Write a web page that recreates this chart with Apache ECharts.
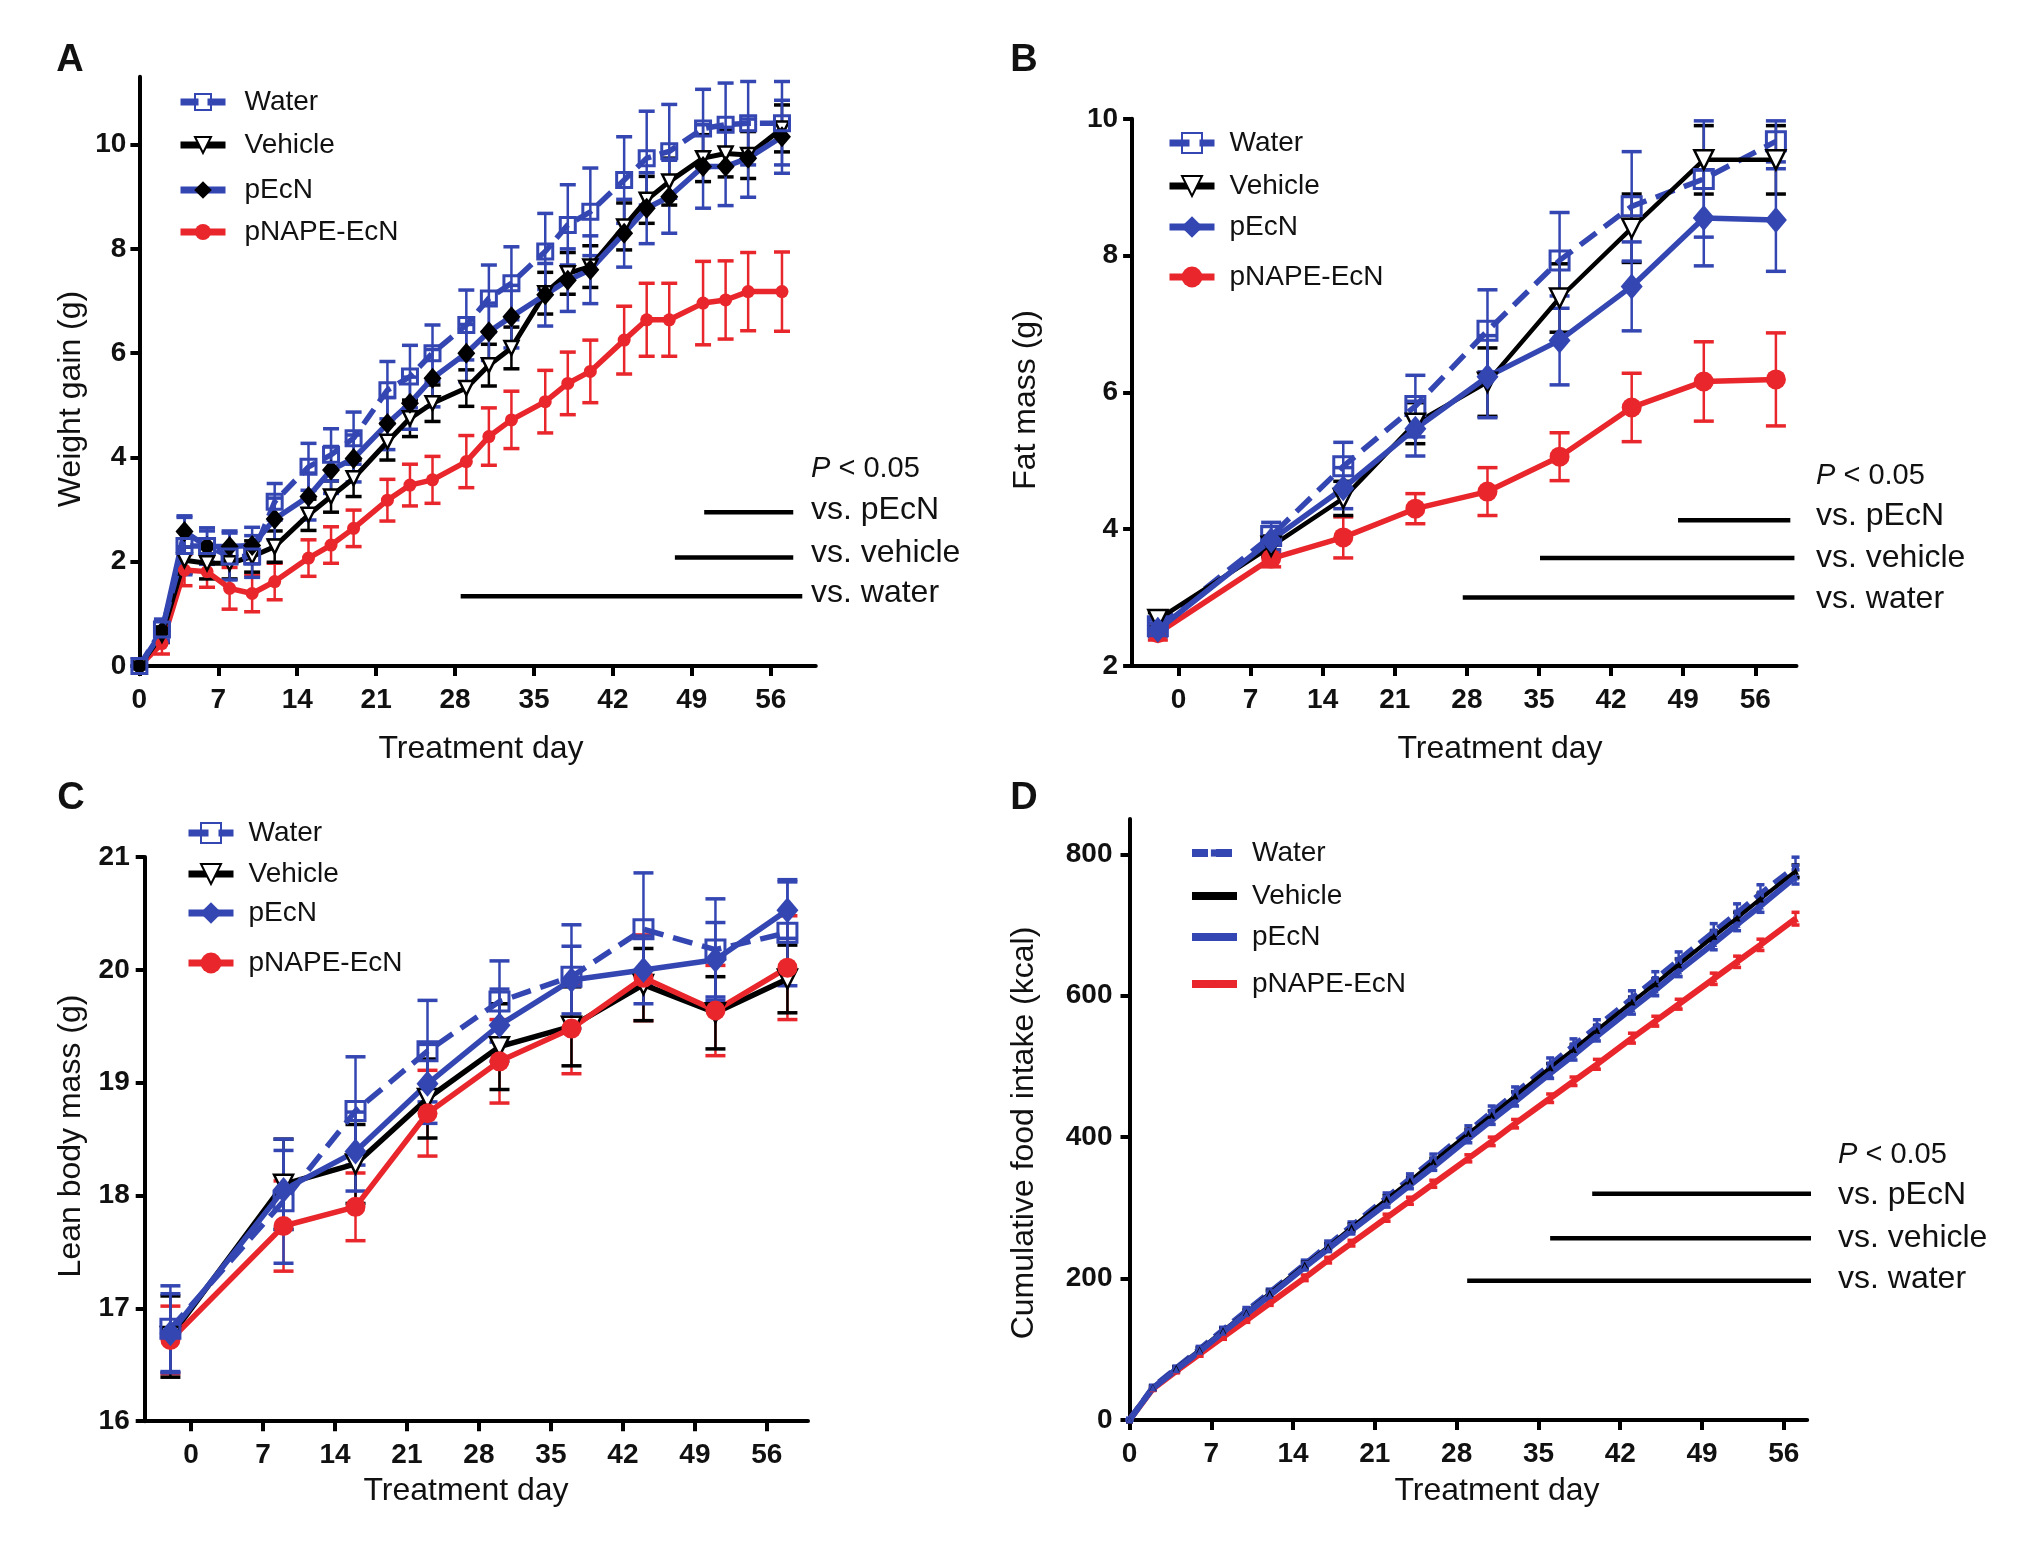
<!DOCTYPE html>
<html>
<head>
<meta charset="utf-8">
<script src="https://cdn.jsdelivr.net/npm/echarts@6/dist/echarts.min.js"></script>
<style>html,body{margin:0;padding:0;background:#fff}#c{width:2024px;height:1544px}</style>
</head>
<body>
<div id="c"></div>
<script>
// ---------- DATA ----------
const xTicks = [0, 7, 14, 21, 28, 35, 42, 49, 56];
const yTicksA = [0, 2, 4, 6, 8, 10];
const yTicksB = [2, 4, 6, 8, 10];
const yTicksC = [16, 17, 18, 19, 20, 21];
const yTicksD = [0, 200, 400, 600, 800];

// Panel A: weight gain (g)
const daysA = [0,2,4,6,8,10,12,15,17,19,22,24,26,29,31,33,36,38,40,43,45,47,50,52,54,57];
const waterA   = [0,0.7,2.3,2.3,2.1,2.1,3.15,3.82,4.05,4.37,5.29,5.55,6.0,6.54,7.05,7.34,7.95,8.46,8.71,9.32,9.74,9.87,10.31,10.38,10.41,10.41];
const waterAerr= [0.05,0.2,0.55,0.35,0.45,0.4,0.35,0.45,0.5,0.5,0.55,0.6,0.54,0.67,0.64,0.7,0.73,0.77,0.84,0.83,0.9,0.9,0.75,0.8,0.8,0.8];
const vehicleA = [0,0.6,2.03,1.97,1.97,2.1,2.29,2.9,3.25,3.6,4.3,4.75,5.04,5.33,5.77,6.1,7.15,7.53,7.66,8.43,8.94,9.29,9.74,9.83,9.8,10.31];
const vehicleAerr=[0.05,0.15,0.25,0.3,0.3,0.3,0.3,0.3,0.3,0.35,0.35,0.35,0.35,0.35,0.4,0.4,0.4,0.4,0.4,0.45,0.45,0.45,0.45,0.45,0.45,0.45];
const pEcNA    = [0,0.66,2.58,2.29,2.29,2.31,2.82,3.25,3.76,3.98,4.65,5.04,5.52,6.0,6.41,6.7,7.12,7.4,7.6,8.3,8.78,9.0,9.58,9.58,9.74,10.15];
const pEcNAerr = [0.05,0.2,0.3,0.3,0.3,0.35,0.4,0.45,0.45,0.45,0.5,0.5,0.55,0.55,0.55,0.6,0.6,0.6,0.65,0.65,0.68,0.7,0.8,0.75,0.75,0.7];
const redA     = [0,0.43,1.84,1.81,1.49,1.39,1.62,2.07,2.32,2.64,3.18,3.47,3.57,3.92,4.4,4.72,5.07,5.42,5.65,6.25,6.64,6.64,6.96,7.02,7.18,7.18];
const redAerr  = [0.05,0.2,0.3,0.3,0.4,0.35,0.35,0.35,0.35,0.35,0.4,0.4,0.45,0.5,0.55,0.55,0.6,0.6,0.6,0.65,0.7,0.7,0.8,0.75,0.75,0.76];

// Panel B: fat mass (g)
const daysB = [-2,9,16,23,30,37,44,51,58];
const waterB    = [2.58,3.9,4.92,5.8,6.9,7.93,8.72,9.12,9.67];
const waterBerr = [0.1,0.2,0.35,0.45,0.6,0.7,0.8,0.85,0.3];
const vehicleB  = [2.68,3.75,4.45,5.55,6.15,7.38,8.4,9.4,9.4];
const vehicleBerr=[0.1,0.15,0.25,0.3,0.5,0.5,0.5,0.5,0.5];
const pEcNB     = [2.53,3.84,4.6,5.47,6.23,6.76,7.55,8.55,8.52];
const pEcNBerr  = [0.1,0.2,0.3,0.4,0.6,0.65,0.65,0.7,0.75];
const redB      = [2.48,3.57,3.88,4.3,4.55,5.06,5.78,6.16,6.19];
const redBerr   = [0.1,0.12,0.3,0.22,0.35,0.35,0.5,0.58,0.68];

// Panel C: lean body mass (g)
const daysC = [-2,9,16,23,30,37,44,51,58];
const waterC    = [16.82,17.95,18.75,19.28,19.72,19.94,20.36,20.18,20.33];
const waterCerr = [0.38,0.55,0.48,0.45,0.36,0.46,0.5,0.45,0.47];
const vehicleC  = [16.75,18.1,18.28,18.86,19.32,19.5,19.87,19.62,19.92];
const vehicleCerr=[0.36,0.4,0.35,0.35,0.38,0.35,0.32,0.32,0.3];
const pEcNC     = [16.78,18.05,18.39,18.99,19.51,19.91,20.0,20.09,20.53];
const pEcNCerr  = [0.35,0.35,0.35,0.35,0.32,0.3,0.3,0.33,0.25];
const redC      = [16.72,17.73,17.9,18.73,19.19,19.48,19.93,19.64,20.02];
const redCerr   = [0.3,0.4,0.3,0.38,0.37,0.4,0.38,0.4,0.46];

// Panel D: cumulative food intake (kcal)
const daysD = [0,2,4,6,8,10,12,15,17,19,22,24,26,29,31,33,36,38,40,43,45,47,50,52,54,57];
const waterD    = [0,46,73,100,127,154,180,220,247,274,314,341,368,408,435,462,502,529,556,596,623,650,690,717,744,782];
const waterDerr = [0,3,3,4,4,5,5,6,6,6,7,7,8,8,9,9,10,10,10,11,11,12,12,13,13,14];
const vehicleD  = [0,46,73,99,126,152,179,219,245,272,312,338,365,405,431,458,498,524,551,591,617,644,684,710,737,776];
const vehicleDerr=[0,2,2,3,3,3,4,4,4,5,5,5,5,6,6,6,6,7,7,7,7,8,8,8,8,9];
const pEcND     = [0,45,71,97,124,150,176,216,242,268,306,332,358,398,424,450,490,516,543,582,608,635,674,701,727,768];
const pEcNDerr  = [0,2,2,3,3,3,4,4,4,5,5,5,5,6,6,6,7,7,7,8,8,8,9,9,9,10];
const redD      = [0,44,69,93,117,141,165,201,226,250,286,310,334,370,394,419,455,479,503,540,564,588,624,648,672,709];
const redDerr   = [0,2,2,3,3,3,3,4,4,4,5,5,5,5,6,6,6,6,7,7,7,7,8,8,8,9];

// Significance bars [xStart, xEnd, y]
const sigA = [[50.1,58.0,2.95],[47.5,58.0,2.08],[28.5,58.8,1.34]];
const sigB = [[48.5,59.4,4.13],[35.1,59.8,3.58],[27.6,59.8,3.0]];
const sigD = [[39.6,58.4,320],[36.0,58.4,257],[28.9,58.4,197]];
const sigLabels = ['vs. pEcN','vs. vehicle','vs. water'];

// ---------- STYLE ----------
const FONT = '"Liberation Sans", Arial, Helvetica, sans-serif';
const BLUE = '#3446b2', RED = '#e8262b', BLACK = '#000';

function zip(xs, ys){ return xs.map((x,i)=>[x, ys[i]]); }

function errSeries(gi, xs, ys, es, color, capW, lw){
  return {
    type:'custom', xAxisIndex:gi, yAxisIndex:gi, silent:true, z:2,
    data: xs.map((x,i)=>[x, ys[i]-es[i], ys[i]+es[i]]),
    encode:{x:0, y:[1,2]},
    renderItem:function(params, api){
      const x = api.value(0);
      const lo = api.coord([x, api.value(1)]);
      const hi = api.coord([x, api.value(2)]);
      const h = capW/2;
      const st = {stroke:color, lineWidth:lw};
      return {type:'group', children:[
        {type:'line', shape:{x1:lo[0],y1:lo[1],x2:hi[0],y2:hi[1]}, style:st},
        {type:'line', shape:{x1:lo[0]-h,y1:lo[1],x2:lo[0]+h,y2:lo[1]}, style:{stroke:color, lineWidth:lw+1}},
        {type:'line', shape:{x1:hi[0]-h,y1:hi[1],x2:hi[0]+h,y2:hi[1]}, style:{stroke:color, lineWidth:lw+1}}
      ]};
    }
  };
}

function lineSeries(name, gi, xs, ys, opt){
  return Object.assign({
    type:'line', name:name, xAxisIndex:gi, yAxisIndex:gi, data:zip(xs, ys),
    animation:false, z:3
  }, opt);
}

function sigSeries(gi, bars){
  return bars.map(b=>({
    type:'line', xAxisIndex:gi, yAxisIndex:gi, data:[[b[0],b[2]],[b[1],b[2]]],
    symbol:'none', clip:false, silent:true, lineStyle:{color:BLACK, width:4.5}, z:4
  }));
}

function xAx(gi, min, max){
  return {type:'value', gridIndex:gi, min:min, max:max,
    axisLine:{onZero:false, lineStyle:{color:BLACK, width:4}},
    axisTick:{customValues:xTicks, length:10, lineStyle:{color:BLACK, width:4}},
    axisLabel:{customValues:xTicks, margin:20, fontSize:28, fontWeight:'bold', fontFamily:FONT, color:'#111'},
    splitLine:{show:false}};
}
function yAx(gi, min, max, ticks, margin){
  return {type:'value', gridIndex:gi, min:min, max:max,
    axisLine:{onZero:false, lineStyle:{color:BLACK, width:4}},
    axisTick:{customValues:ticks, length:9, lineStyle:{color:BLACK, width:4}},
    axisLabel:{customValues:ticks, margin:margin, fontSize:28, fontWeight:'bold', fontFamily:FONT, color:'#111'},
    splitLine:{show:false}};
}

function legendItem(name, left, yc, pad, itemH, lw){
  const ih = itemH || 22;
  const h = Math.max(ih, 28);
  return {left:left, top:yc - h/2, padding:0, orient:'vertical', itemWidth:45, itemHeight:ih,
    data:[name], selectedMode:false,
    lineStyle:{width: lw || 7},
    formatter:function(n){ return n.split('|')[0]; },
    textStyle:{fontSize:28, fontFamily:FONT, color:'#111', padding:[0,0,0,pad], lineHeight:28}};
}

const series = [];
// Panel A
series.push(errSeries(0, daysA, redA, redAerr, RED, 16, 2.5));
series.push(errSeries(0, daysA, vehicleA, vehicleAerr, BLACK, 16, 2.5));
series.push(errSeries(0, daysA, pEcNA, pEcNAerr, BLUE, 16, 2.5));
series.push(errSeries(0, daysA, waterA, waterAerr, BLUE, 16, 2.5));
series.push(lineSeries('pNAPE-EcN|A', 0, daysA, redA, {symbol:'circle', symbolSize:13, itemStyle:{color:RED}, lineStyle:{color:RED, width:5.5}}));
series.push(lineSeries('Vehicle|A', 0, daysA, vehicleA, {symbol:'triangle', symbolRotate:180, symbolSize:14, itemStyle:{color:'#fff', borderColor:BLACK, borderWidth:2.5}, lineStyle:{color:BLACK, width:5}}));
series.push(lineSeries('pEcN|A', 0, daysA, pEcNA, {symbol:'diamond', symbolSize:[18,21], itemStyle:{color:BLACK}, lineStyle:{color:BLUE, width:5.5}}));
series.push(lineSeries('Water|A', 0, daysA, waterA, {symbol:'rect', symbolSize:15, itemStyle:{color:'rgba(255,255,255,0)', borderColor:BLUE, borderWidth:3}, lineStyle:{color:BLUE, width:5.5, type:[18,9]}}));
// Panel B
series.push(errSeries(1, daysB, redB, redBerr, RED, 20, 2.5));
series.push(errSeries(1, daysB, vehicleB, vehicleBerr, BLACK, 20, 2.5));
series.push(errSeries(1, daysB, pEcNB, pEcNBerr, BLUE, 20, 2.5));
series.push(errSeries(1, daysB, waterB, waterBerr, BLUE, 20, 2.5));
series.push(lineSeries('pNAPE-EcN|B', 1, daysB, redB, {symbol:'circle', symbolSize:20, itemStyle:{color:RED}, lineStyle:{color:RED, width:5.5}}));
series.push(lineSeries('Water|B', 1, daysB, waterB, {symbol:'rect', symbolSize:19, itemStyle:{color:'rgba(255,255,255,0)', borderColor:BLUE, borderWidth:3}, lineStyle:{color:BLUE, width:5.5, type:[20,10]}}));
series.push(lineSeries('Vehicle|B', 1, daysB, vehicleB, {symbol:'triangle', symbolRotate:180, symbolSize:19, itemStyle:{color:'#fff', borderColor:BLACK, borderWidth:2.5}, lineStyle:{color:BLACK, width:4.5}}));
series.push(lineSeries('pEcN|B', 1, daysB, pEcNB, {symbol:'diamond', symbolSize:[22,26], itemStyle:{color:BLUE}, lineStyle:{color:BLUE, width:5.5}}));
// Panel C
series.push(errSeries(2, daysC, redC, redCerr, RED, 20, 2.5));
series.push(errSeries(2, daysC, vehicleC, vehicleCerr, BLACK, 20, 2.5));
series.push(errSeries(2, daysC, pEcNC, pEcNCerr, BLUE, 20, 2.5));
series.push(errSeries(2, daysC, waterC, waterCerr, BLUE, 20, 2.5));
series.push(lineSeries('Vehicle|C', 2, daysC, vehicleC, {symbol:'triangle', symbolRotate:180, symbolSize:19, itemStyle:{color:'#fff', borderColor:BLACK, borderWidth:2.5}, lineStyle:{color:BLACK, width:5.5}}));
series.push(lineSeries('pNAPE-EcN|C', 2, daysC, redC, {symbol:'circle', symbolSize:20, itemStyle:{color:RED}, lineStyle:{color:RED, width:5.5}}));
series.push(lineSeries('Water|C', 2, daysC, waterC, {symbol:'rect', symbolSize:19, itemStyle:{color:'rgba(255,255,255,0)', borderColor:BLUE, borderWidth:3}, lineStyle:{color:BLUE, width:5.5, type:[20,10]}}));
series.push(lineSeries('pEcN|C', 2, daysC, pEcNC, {symbol:'diamond', symbolSize:[22,26], itemStyle:{color:BLUE}, lineStyle:{color:BLUE, width:5.5}}));
// Panel D
series.push(errSeries(3, daysD, redD, redDerr, RED, 8, 2.5));
series.push(errSeries(3, daysD, waterD, waterDerr, BLUE, 8, 2.5));
series.push(errSeries(3, daysD, vehicleD, vehicleDerr, BLACK, 8, 2.5));
series.push(errSeries(3, daysD, pEcND, pEcNDerr, BLUE, 8, 2.5));
series.push(lineSeries('pNAPE-EcN|D', 3, daysD, redD, {symbol:'triangle', symbolSize:7, itemStyle:{color:RED}, lineStyle:{color:RED, width:6}}));
series.push(lineSeries('Water|D', 3, daysD, waterD, {symbol:'rect', symbolSize:7, itemStyle:{color:BLUE}, lineStyle:{color:BLUE, width:6, type:[16,8]}}));
series.push(lineSeries('Vehicle|D', 3, daysD, vehicleD, {symbol:'triangle', symbolSize:7, itemStyle:{color:BLACK}, lineStyle:{color:BLACK, width:4}}));
series.push(lineSeries('pEcN|D', 3, daysD, pEcND, {symbol:'triangle', symbolSize:7, itemStyle:{color:BLUE}, lineStyle:{color:BLUE, width:6}}));
// significance bars
series.push(...sigSeries(0, sigA), ...sigSeries(1, sigB), ...sigSeries(3, sigD));

const legends = [
  legendItem('Water|A', 177, 102, 14, 20), legendItem('Vehicle|A', 177, 145, 14, 20),
  legendItem('pEcN|A', 177, 190, 14, 22), legendItem('pNAPE-EcN|A', 177, 232, 14, 20),
  legendItem('Water|B', 1166, 143, 10, 25), legendItem('Vehicle|B', 1166, 186, 10, 25),
  legendItem('pEcN|B', 1166, 227, 10, 27), legendItem('pNAPE-EcN|B', 1166, 277, 10, 26),
  legendItem('Water|C', 185, 833, 10, 25), legendItem('Vehicle|C', 185, 874, 10, 25),
  legendItem('pEcN|C', 185, 913, 10, 27), legendItem('pNAPE-EcN|C', 185, 963, 10, 26),
  legendItem('Water|D', 1188, 853, 10, 9, 8), legendItem('Vehicle|D', 1188, 896, 10, 9, 8),
  legendItem('pEcN|D', 1188, 937, 10, 9, 8), legendItem('pNAPE-EcN|D', 1188, 984, 10, 9, 8)
];

function txt(text, x, y, size, opt){
  return Object.assign({type:'text', x:x, y:y, silent:true,
    style:Object.assign({text:text, fontSize:size, fontFamily:FONT, fill:'#111',
      align:'center', verticalAlign:'middle', textAlign:'center', textVerticalAlign:'middle'}, (opt&&opt.style)||{})},
    (opt&&opt.el)||{});
}
function leftTxt(text, x, y, size){ return txt(text, x, y, size, {style:{align:'left', textAlign:'left'}}); }
function pTxt(x, y){
  return {type:'text', x:x, y:y, silent:true, style:{text:'{i|P} < 0.05', fontSize:29, fontFamily:FONT, fill:'#111',
    align:'left', verticalAlign:'middle', textAlign:'left', textVerticalAlign:'middle',
    rich:{i:{fontStyle:'italic', fontSize:29, fontFamily:FONT, fill:'#111'}}}};
}

const graphics = [
  txt('A', 70, 61, 38, {style:{fontWeight:'bold'}}),
  txt('B', 1024, 61, 38, {style:{fontWeight:'bold'}}),
  txt('C', 71, 799, 38, {style:{fontWeight:'bold'}}),
  txt('D', 1024, 799, 38, {style:{fontWeight:'bold'}}),
  txt('Treatment day', 481, 749, 32), txt('Treatment day', 1500, 749, 32),
  txt('Treatment day', 466, 1491, 32), txt('Treatment day', 1497, 1491, 32),
  txt('Weight gain (g)', 71, 399, 32, {el:{rotation:Math.PI/2}}),
  txt('Fat mass (g)', 1026, 400, 32, {el:{rotation:Math.PI/2}}),
  txt('Lean body mass (g)', 71, 1136, 32, {el:{rotation:Math.PI/2}}),
  txt('Cumulative food intake (kcal)', 1024, 1133, 32, {el:{rotation:Math.PI/2}}),
  pTxt(811, 469), leftTxt(sigLabels[0], 811, 510, 32), leftTxt(sigLabels[1], 811, 553, 32), leftTxt(sigLabels[2], 811, 593, 32),
  pTxt(1816, 476), leftTxt(sigLabels[0], 1816, 516, 32), leftTxt(sigLabels[1], 1816, 558, 32), leftTxt(sigLabels[2], 1816, 599, 32),
  pTxt(1838, 1155), leftTxt(sigLabels[0], 1838, 1195, 32), leftTxt(sigLabels[1], 1838, 1238, 32), leftTxt(sigLabels[2], 1838, 1279, 32)
];

const option = {
  backgroundColor:'#fff',
  animation:false,
  grid:[
    {left:139.4, top:76.8, width:676.4, height:589.2},
    {left:1132.1, top:118.8, width:664.4, height:547.2},
    {left:144.7, top:857.1, width:663.3, height:564.1},
    {left:1129.5, top:819, width:677.7, height:600.9}
  ],
  xAxis:[xAx(0,0,60), xAx(1,-4.5,60), xAx(2,-4.5,60), xAx(3,0,58)],
  yAxis:[yAx(0,0,11.3,yTicksA,13), yAx(1,2,10,yTicksB,14), yAx(2,16,21,yTicksC,15), yAx(3,0,850,yTicksD,17)],
  legend:legends,
  series:series,
  graphic:graphics
};

const chart = echarts.init(document.getElementById('c'), null, {renderer:'canvas'});
chart.setOption(option);
</script>
</body>
</html>
